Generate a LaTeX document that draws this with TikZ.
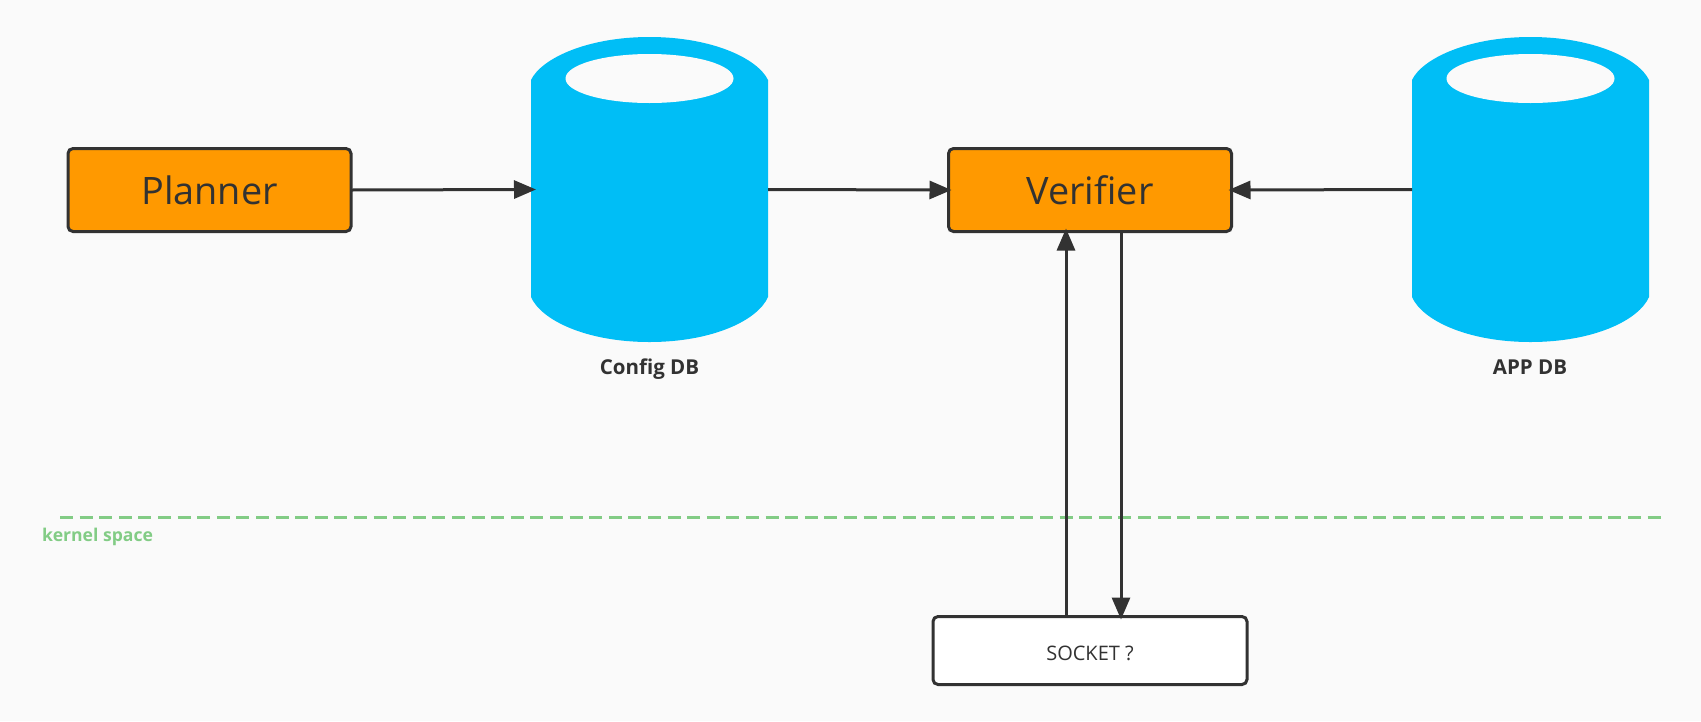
\documentclass[tikz,border=0pt]{standalone}
\usepackage{fontspec}
\setmainfont{Open Sans}
\usetikzlibrary{arrows.meta}
\definecolor{pagebg}{HTML}{FAFAFA}
\definecolor{ink}{HTML}{323232}
\definecolor{orangebox}{HTML}{FF9900}
\definecolor{dbblue}{HTML}{00BEF6}
\definecolor{kgreen}{HTML}{82CC85}
\tikzset{
  x=1pt,y=-1pt,
  procbox/.style={draw=ink,line width=3pt,rounded corners=5pt,fill=orangebox,text=ink,inner sep=0pt,outer sep=0pt,minimum width=283pt,minimum height=83pt,text height=30pt,text depth=1pt,font=\fontsize{37.8}{40}\selectfont},
  sockbox/.style={draw=ink,line width=3pt,rounded corners=5pt,fill=white,text=ink,inner sep=0pt,outer sep=0pt,minimum width=314pt,minimum height=68pt,text height=20pt,text depth=0pt,font=\fontsize{20}{22}\selectfont},
  dbbody/.style={inner sep=0pt,outer sep=0pt,minimum width=237pt,minimum height=217pt},
  dblabel/.style={text=ink,inner sep=0pt,anchor=base,font=\fontsize{20.5}{22}\selectfont\bfseries},
  conn/.style={draw=ink,line width=3pt,-{Triangle[length=22pt,width=18pt]},shorten >=-3pt},
}
\newcommand{\dbshape}[1]{%
  \fill[dbblue] (#1-118.5,297)
    -- (#1-118.5,80) .. controls (#1-108.5,59) and (#1-63.5,37) .. (#1,37)
    .. controls (#1+63.5,37) and (#1+108.5,59) .. (#1+118.5,80)
    -- (#1+118.5,297) .. controls (#1+108.5,320) and (#1+63.5,342) .. (#1,342)
    .. controls (#1-63.5,342) and (#1-108.5,320) .. (#1-118.5,297) -- cycle;
  \fill[pagebg] (#1,78.5) ellipse (84 and 24.5);
}
\begin{document}
\begin{tikzpicture}
\fill[pagebg] (0,0) rectangle (1701,721);
\useasboundingbox (0,0) rectangle (1701,721);
\draw[kgreen,line width=3pt,dash pattern=on 13pt off 6.6pt] (60,517) coordinate (gl) -- (1664,517) coordinate (gr);
\node[text=kgreen,inner sep=0pt,font=\fontsize{17.6}{22}\selectfont\bfseries,anchor=base west] (kern) at (42,541) {kernel space};
\dbshape{649.5}
\dbshape{1530.5}
\node[dbbody] (cfg) at (649.5,189.5) {};
\node[dbbody] (app) at (1530.5,189.5) {};
\node[dblabel] (cfgl) at (649.5,374) {Config DB};
\node[dblabel] (appl) at (1530,374) {APP DB};
\node[procbox] (planner) at (209.5,190) {Planner};
\node[procbox] (verifier) at (1090,190) {Verifier};
\node[sockbox] (socket) at (1090,650.5) {SOCKET ?};
\coordinate (upx) at (1066,400);
\coordinate (downx) at (1121,400);
\draw[conn,shorten >=-5pt] (planner.east) -- (cfg.west);
\draw[conn] (cfg.east) -- (verifier.west);
\draw[conn] (app.west) -- (verifier.east);
\draw[conn] (socket.north -| upx) -- (verifier.south -| upx);
\draw[conn] (verifier.south -| downx) -- (socket.north -| downx);
\end{tikzpicture}
\end{document}
